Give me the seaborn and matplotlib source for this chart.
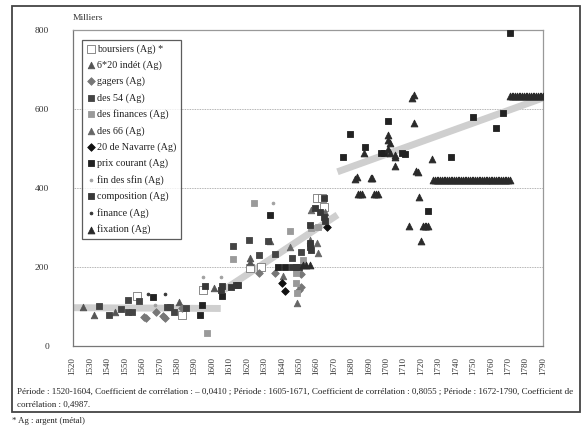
import matplotlib
matplotlib.use("Agg")
import matplotlib.pyplot as plt
import seaborn as sns
import pandas as pd
from matplotlib.patches import Rectangle

sns.set_theme(style="white")
plt.rcParams['font.family'] = ['Liberation Serif', 'DejaVu Serif']

# ---------------- data (year, value in milliers) ----------------
boursiers_x = [1557, 1583, 1595, 1622, 1628, 1660, 1663, 1664]
boursiers_y = [127, 78, 142, 198, 201, 375, 375, 353]

indet_x = [1526, 1532, 1544, 1581, 1601, 1622, 1622, 1633]
indet_y = [100, 78, 87, 112, 146, 222, 213, 265]

gagers_x = [1561, 1562, 1568, 1572, 1573, 1583, 1627, 1636, 1651, 1651, 1650]
gagers_y = [74, 70, 87, 75, 70, 95, 186, 186, 182, 149, 143]

des54_x = [1535, 1541, 1548, 1552, 1552, 1554, 1558, 1574, 1576, 1578, 1585,
           1612, 1621, 1632, 1627, 1636, 1646, 1651]
des54_y = [101, 78, 94, 116, 87, 87, 115, 100, 100, 85, 95,
           253, 268, 267, 230, 233, 224, 239]

finances_x = [1597, 1612, 1624, 1645, 1648, 1648, 1649, 1652, 1661, 1657]
finances_y = [32, 219, 363, 292, 184, 160, 135, 218, 302, 300]

des66_x = [1641, 1645, 1649, 1656, 1660, 1661, 1665, 1657]
des66_y = [177, 251, 110, 268, 262, 236, 340, 344]

navarre_x = [1640, 1642, 1666]
navarre_y = [159, 140, 302]

prix_x = [1566, 1594, 1593, 1606, 1633, 1638, 1642, 1675, 1679, 1688, 1697,
          1699, 1701, 1709, 1711, 1724, 1737, 1750, 1763, 1767, 1771]
prix_y = [125, 105, 78, 127, 332, 201, 201, 479, 536, 503, 489,
          489, 570, 489, 487, 342, 479, 581, 551, 591, 792]

sfin_x = [1595, 1605, 1635, 1567]
sfin_y = [175, 175, 363, 105]

compo_x = [1596, 1605, 1606, 1611, 1614, 1615, 1646, 1648, 1650, 1656, 1656,
           1657, 1656, 1659, 1662, 1664, 1665, 1664]
compo_y = [152, 142, 152, 149, 154, 155, 201, 201, 201, 260, 250,
           243, 306, 350, 340, 327, 316, 375]

finance_x = [1563, 1573]
finance_y = [131, 131]

fixation_x = [1652, 1654, 1656, 1682, 1683, 1684, 1685, 1686, 1687, 1691, 1692,
              1693, 1694, 1695, 1701, 1701, 1702, 1701, 1702, 1705, 1705, 1705,
              1713, 1715, 1716, 1716, 1717, 1718, 1719, 1720, 1721, 1722, 1723,
              1724, 1726,
              1727, 1728, 1729, 1730, 1731, 1732, 1733, 1734, 1735, 1736, 1737,
              1738, 1739, 1740, 1741, 1742, 1743, 1744, 1745, 1746, 1747, 1748,
              1749, 1750, 1751, 1752, 1753, 1754, 1755, 1756, 1757, 1758, 1759,
              1760, 1761, 1762, 1763, 1764, 1765, 1766, 1767, 1768, 1769, 1770,
              1771,
              1771, 1772, 1773, 1774, 1775, 1776, 1777, 1778, 1779, 1780, 1781,
              1782, 1783, 1784, 1785, 1786, 1787, 1788, 1789, 1790]
fixation_y = [205, 205, 205, 424, 428, 384, 384, 384, 489, 425, 425,
              384, 384, 384, 534, 522, 514, 498, 489, 483, 478, 456,
              304, 627, 635, 564, 444, 441, 378, 267, 304, 304, 304,
              304, 473,
              420, 420, 420, 420, 420, 420, 420, 420, 420, 420, 420,
              420, 420, 420, 420, 420, 420, 420, 420, 420, 420, 420,
              420, 420, 420, 420, 420, 420, 420, 420, 420, 420, 420,
              420, 420, 420, 420, 420, 420, 420, 420, 420, 420, 420,
              420,
              632, 632, 632, 632, 632, 632, 632, 632, 632, 632, 632,
              632, 632, 632, 632, 632, 632, 632, 632, 632]

# trend lines (start / end of each period)
trend_x = [[1520, 1605], [1605, 1672], [1672, 1790]]
trend_y = [[97, 95], [137, 332], [441, 628]]

series = [
    ("boursiers (Ag) *", boursiers_x, boursiers_y, "s", "white", "#777777", 30),
    ("6*20 indét (Ag)", indet_x, indet_y, "^", "#555555", "#555555", 22),
    ("gagers (Ag)", gagers_x, gagers_y, "D", "#777777", "#777777", 15),
    ("des 54 (Ag)", des54_x, des54_y, "s", "#444444", "#444444", 18),
    ("des finances (Ag)", finances_x, finances_y, "s", "#9a9a9a", "#9a9a9a", 18),
    ("des 66 (Ag)", des66_x, des66_y, "^", "#666666", "#666666", 22),
    ("20 de Navarre (Ag)", navarre_x, navarre_y, "D", "#111111", "#111111", 15),
    ("prix courant (Ag)", prix_x, prix_y, "s", "#222222", "#222222", 16),
    ("fin des sfin (Ag)", sfin_x, sfin_y, "o", "#a0a0a0", "#a0a0a0", 4),
    ("composition (Ag)", compo_x, compo_y, "s", "#383838", "#383838", 18),
    ("finance (Ag)", finance_x, finance_y, "o", "#333333", "#333333", 4),
    ("fixation (Ag)", fixation_x, fixation_y, "^", "#2a2a2a", "#2a2a2a", 24),
]

W, H = 584, 428
fig = plt.figure(figsize=(W / 100, H / 100), dpi=100)
ax = fig.add_axes([72.7 / W, 1 - 346 / H, (543 - 72.7) / W, (346 - 30) / H])

# trend lines
for tx, ty in zip(trend_x, trend_y):
    sns.lineplot(x=tx, y=ty, ax=ax, color="#cfcfcf", linewidth=5,
                 solid_capstyle="butt", zorder=1)

for label, xs, ys, mk, fc, ec, s in series:
    sns.scatterplot(x=xs, y=ys, ax=ax, marker=mk, color=fc, edgecolor=ec,
                    linewidth=0.6, s=s, label=label, zorder=3)

ax.set_xlim(1520, 1790)
ax.set_ylim(0, 800)
ax.set_xticks(list(range(1520, 1791, 10)))
ax.set_xticklabels([str(v) for v in range(1520, 1791, 10)], rotation=90,
                   fontsize=6.5, color="#333333")
ax.set_yticks([0, 200, 400, 600, 800])
ax.set_yticklabels(["0", "200", "400", "600", "800"], fontsize=6.8,
                   color="#333333")
ax.tick_params(axis="x", length=0, pad=8)
ax.tick_params(axis="y", length=0, pad=17)
for yv in [200, 400, 600]:
    ax.axhline(yv, color="#999999", linestyle=(0, (1, 1)), linewidth=0.6, zorder=0)
for sp in ax.spines.values():
    sp.set_color("#999999")
    sp.set_linewidth(0.9)
ax.spines["left"].set_color("#777777")
ax.spines["bottom"].set_color("#777777")
ax.set_xlabel("")
ax.set_ylabel("")
ax.text(0.0, 1.025, "Milliers", transform=ax.transAxes, fontsize=6.8,
        ha="left", va="bottom", color="#333333")

leg = ax.legend(loc="upper left", bbox_to_anchor=(0.02, 0.968), fontsize=7.3,
                frameon=True, fancybox=False, edgecolor="#333333",
                handletextpad=0.2, handlelength=0.9, labelspacing=0.66,
                borderpad=0.4, borderaxespad=0)
leg.get_frame().set_linewidth(0.9)
for t in leg.get_texts():
    t.set_color("#222222")

# outer frame
fig.patches.append(Rectangle((12 / W, 1 - 412 / H), (580 - 12) / W, (412 - 6) / H,
                             transform=fig.transFigure, fill=False,
                             edgecolor="#444444", linewidth=1.3))

fig.text(17 / W, 1 - 392 / H,
         "Période : 1520-1604, Coefficient de corrélation : – 0,0410 ; Période : 1605-1671, "
         "Coefficient de corrélation : 0,8055 ; Période : 1672-1790, Coefficient de",
         fontsize=6.5, ha="left", va="center", color="#222222")
fig.text(17 / W, 1 - 405 / H, "corrélation : 0,4987.",
         fontsize=6.5, ha="left", va="center", color="#222222")
fig.text(12 / W, 1 - 421 / H, "* Ag : argent (métal)",
         fontsize=6.3, ha="left", va="center", color="#222222")

fig.savefig("out.png", dpi=100)
